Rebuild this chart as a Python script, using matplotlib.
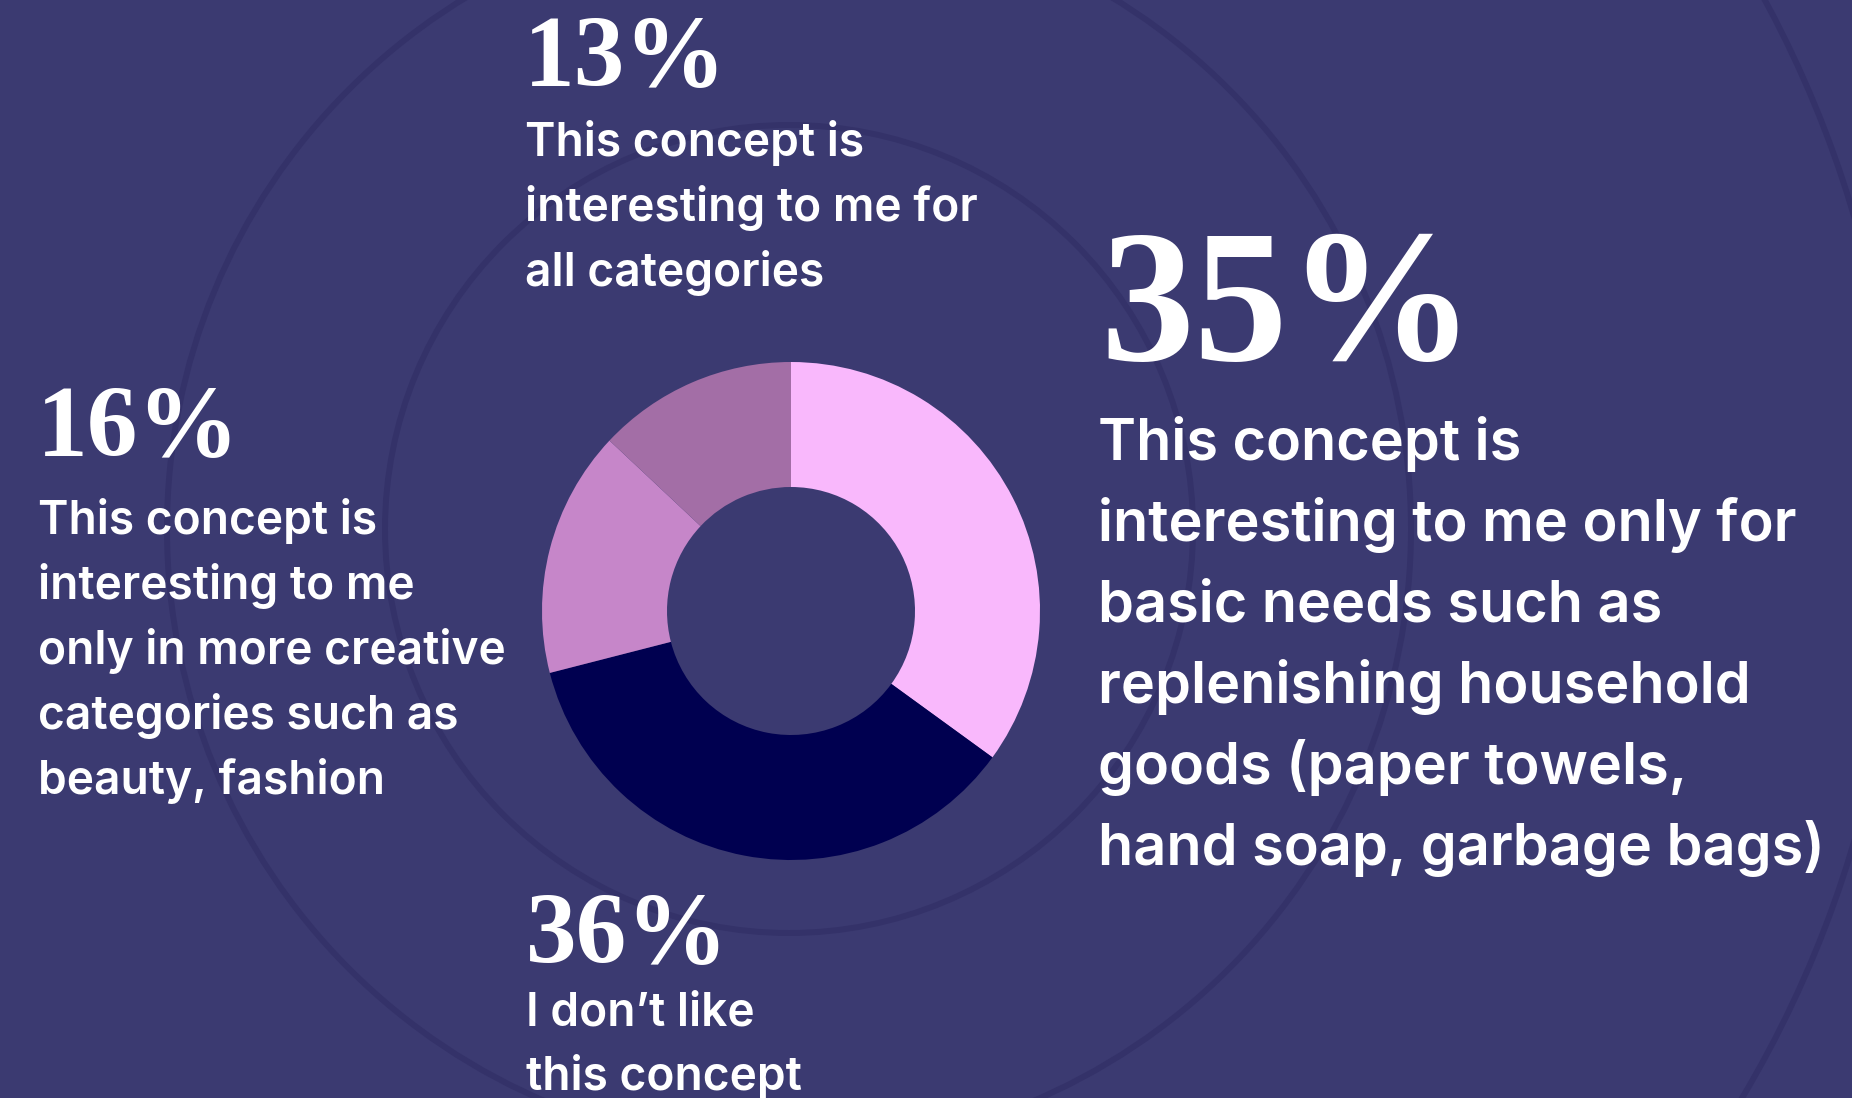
import matplotlib
matplotlib.use("Agg")
import matplotlib.pyplot as plt
from matplotlib.patches import Circle

# ---- data -------------------------------------------------------------
shares = [35, 36, 16, 13]
share_labels = ["35%", "36%", "16%", "13%"]
answers = [
    ["This concept is", "interesting to me only for", "basic needs such as",
     "replenishing household", "goods (paper towels,", "hand soap, garbage bags)"],
    ["I don\u2019t like", "this concept"],
    ["This concept is", "interesting to me", "only in more creative",
     "categories such as", "beauty, fashion"],
    ["This concept is", "interesting to me for", "all categories"],
]
slice_colors = ["#F9B8FC", "#000050", "#C686C9", "#A36EA6"]

# ---- canvas ------------------------------------------------------------
W, H = 1852, 1098
BG = "#3B3A71"
RING = "#343269"

fig = plt.figure(figsize=(W / 100, H / 100), dpi=100)
fig.patch.set_facecolor(BG)
ax = fig.add_axes([0, 0, 1, 1])
ax.set_facecolor(BG)


def Y(y):
    """top-down pixel row -> data y"""
    return H - y


# faint concentric rings behind the donut
ring_center = (789, Y(529))
for r in (404, 622, 1110):
    ax.add_patch(Circle(ring_center, r, fill=False, ec=RING, lw=4.3, zorder=0))

# donut
ax.pie(shares, colors=slice_colors, startangle=90, counterclock=False,
       radius=249, center=(791, Y(611)),
       wedgeprops=dict(width=125, edgecolor="none", linewidth=0))

ax.set_xlim(0, W)
ax.set_ylim(0, H)
ax.set_aspect("equal")
ax.axis("off")

SERIF = "Liberation Serif"
SANS = "Inter"

# label blocks: (number x, number baseline, number size, body x, first body baseline,
#                body size, line step)
blocks = [
    (1100, 360, 135, 1098, 460, 41.5, 81),   # 35%
    (526, 962, 73, 526, 1025, 33.2, 65),     # 36%
    (37, 455, 73, 38, 534, 33.2, 65),        # 16%
    (524, 85, 73, 525, 156, 33.2, 65),       # 13%
]

for (nx, ny, nsize, bx, by, bsize, step), pct, lines in zip(blocks, share_labels, answers):
    ax.text(nx, Y(ny), pct, color="white", fontsize=nsize, fontfamily=SERIF,
            fontweight="bold", va="baseline", ha="left")
    for i, line in enumerate(lines):
        ax.text(bx, Y(by + i * step), line, color="white", fontsize=bsize,
                fontfamily=SANS, fontweight="semibold", va="baseline", ha="left")

fig.savefig("out.png", dpi=100, facecolor=BG)
